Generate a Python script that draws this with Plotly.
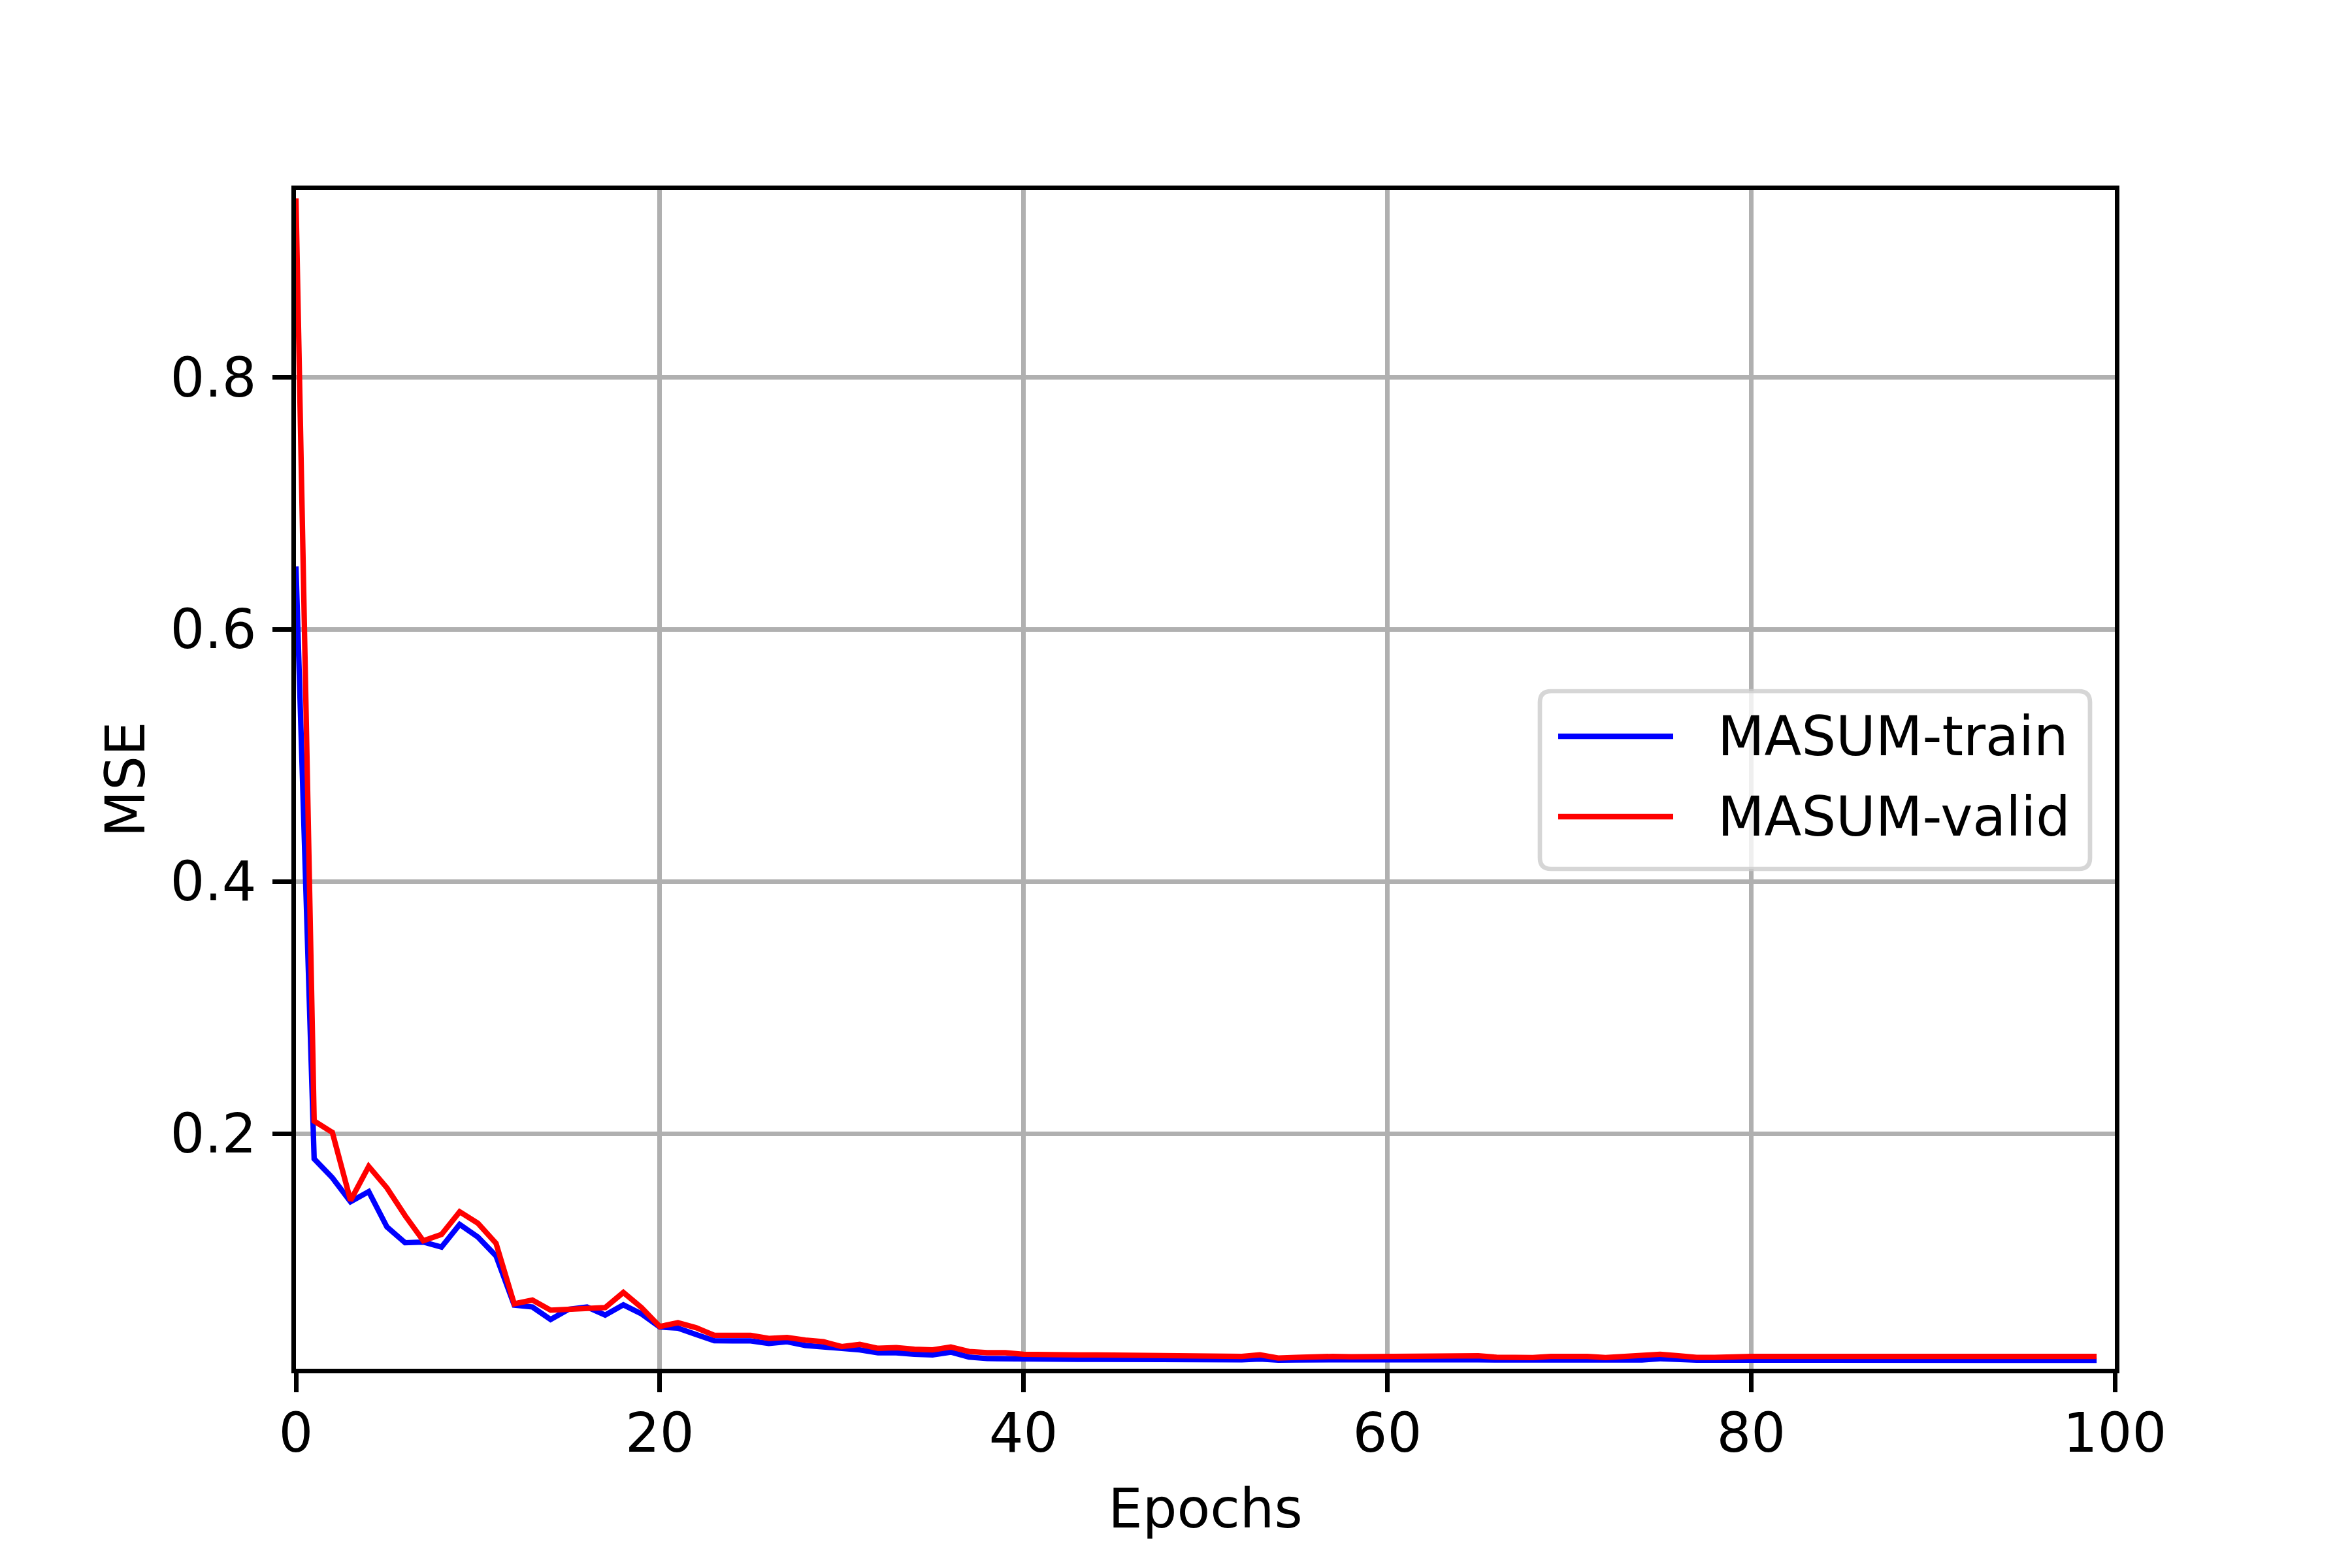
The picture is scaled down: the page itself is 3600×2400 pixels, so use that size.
import plotly.graph_objects as go


# Epoki i wartości MSE

epochs = list(range(100))

train_mse = [
    0.650, 0.180, 0.165, 0.146, 0.154, 0.126, 0.1135, 0.114, 0.110, 0.128,
    0.118, 0.103, 0.064, 0.0625, 0.0526, 0.0607, 0.0625, 0.0561, 0.0642, 0.057,
    0.0466, 0.0457, 0.0406, 0.0357, 0.0356, 0.0356, 0.0335, 0.0349, 0.032, 0.0308,
    0.029, 0.0285, 0.0262, 0.0262, 0.025, 0.0245, 0.0267, 0.0228, 0.0216, 0.0213,
    0.0211, 0.021, 0.021, 0.021, 0.021, 0.0209, 0.021, 0.021, 0.021, 0.021,
    0.0206, 0.0206, 0.0206, 0.0212, 0.0203, 0.0205, 0.0206, 0.0206, 0.0205, 0.0205,
    0.0205, 0.0205, 0.0208, 0.0206, 0.0206, 0.0206, 0.0204, 0.0203, 0.0203, 0.0205,
    0.0205, 0.0205, 0.0203, 0.0205, 0.0205, 0.0215, 0.0206, 0.0203, 0.0203, 0.0203,
    0.0203, 0.0203, 0.0203, 0.0203, 0.0202, 0.0202, 0.0202, 0.0202, 0.0202, 0.0202,
    0.0202, 0.0202, 0.0202, 0.0202, 0.0202, 0.0202, 0.0202, 0.0202, 0.0202, 0.0202,
]

valid_mse = [
    0.942, 0.210, 0.201, 0.147, 0.174, 0.157, 0.135, 0.115, 0.120, 0.138,
    0.129, 0.113, 0.065, 0.068, 0.060, 0.061, 0.062, 0.062, 0.074, 0.062,
    0.047, 0.050, 0.046, 0.040, 0.040, 0.040, 0.0375, 0.0383, 0.0363, 0.0349,
    0.0311, 0.0328, 0.0297, 0.0302, 0.029, 0.0285, 0.0307, 0.0272, 0.0262, 0.0262,
    0.025, 0.0245, 0.0245, 0.0245, 0.0245, 0.0243, 0.0245, 0.0245, 0.0245, 0.0245,
    0.0238, 0.0233, 0.0233, 0.0245, 0.022, 0.0225, 0.0233, 0.0233, 0.023, 0.023,
    0.023, 0.023, 0.024, 0.0238, 0.0238, 0.0238, 0.0226, 0.0224, 0.0224, 0.0233,
    0.0235, 0.0233, 0.0224, 0.0232, 0.0233, 0.025, 0.0238, 0.0225, 0.0225, 0.0233,
    0.0233, 0.0233, 0.0233, 0.0233, 0.0233, 0.0233, 0.0233, 0.0233, 0.0233, 0.0233,
    0.0233, 0.0233, 0.0233, 0.0233, 0.0233, 0.0233, 0.0233, 0.0233, 0.0233, 0.0233,
]

series_names = ["MASUM-train", "MASUM-valid"]
series_colors = ["blue", "red"]

x_ticks = [0, 20, 40, 60, 80, 100]
y_ticks = [0.2, 0.4, 0.6, 0.8]


# Geometria (piksele)

W, H = 3600, 2400
L, R, T, B = 453, 363, 291, 305
PW = W - L - R
PH = H - T - B
FONT = dict(family="DejaVu Sans", size=83, color="black")


def px(p):
    return (p - L) / PW


def py(p):
    return (H - B - p) / PH


fig = go.Figure()

for name, values, color in zip(series_names, [train_mse, valid_mse], series_colors):
    fig.add_trace(
        go.Scatter(
            x=epochs,
            y=values,
            mode="lines",
            name=name,
            line=dict(color=color, width=8.3),
            showlegend=False,
        )
    )


# Legenda rysowana ręcznie (matplotlib-owy wygląd)

bx0, bx1, by0, by1, rad = 2357, 3199, 1058, 1330, 17
path = (
    f"M{px(bx0 + rad)},{py(by0)} L{px(bx1 - rad)},{py(by0)} "
    f"Q{px(bx1)},{py(by0)} {px(bx1)},{py(by0 + rad)} "
    f"L{px(bx1)},{py(by1 - rad)} "
    f"Q{px(bx1)},{py(by1)} {px(bx1 - rad)},{py(by1)} "
    f"L{px(bx0 + rad)},{py(by1)} "
    f"Q{px(bx0)},{py(by1)} {px(bx0)},{py(by1 - rad)} "
    f"L{px(bx0)},{py(by0 + rad)} "
    f"Q{px(bx0)},{py(by0)} {px(bx0 + rad)},{py(by0)} Z"
)
fig.add_shape(
    type="path",
    path=path,
    xref="paper",
    yref="paper",
    fillcolor="rgba(255,255,255,0.8)",
    line=dict(color="rgba(204,204,204,0.8)", width=6.7),
    layer="above",
)

for i, (name, color) in enumerate(zip(series_names, series_colors)):
    ly = 1127 + i * 123
    fig.add_shape(
        type="line",
        xref="paper",
        yref="paper",
        x0=px(2385),
        x1=px(2561),
        y0=py(ly),
        y1=py(ly),
        line=dict(color=color, width=8.3),
        layer="above",
    )
    fig.add_annotation(
        x=px(2627),
        y=py(ly),
        xref="paper",
        yref="paper",
        text=name,
        showarrow=False,
        xanchor="left",
        yanchor="middle",
        font=FONT,
    )


axis_style = dict(
    showline=True,
    linecolor="black",
    linewidth=6.7,
    mirror=True,
    ticks="outside",
    ticklen=29,
    tickwidth=6.7,
    tickcolor="black",
    showgrid=True,
    gridcolor="#b0b0b0",
    gridwidth=6.7,
    zeroline=False,
    tickfont=FONT,
    title_font=FONT,
)

fig.update_layout(
    width=W,
    height=H,
    margin=dict(l=L, r=R, t=T, b=B),
    paper_bgcolor="white",
    plot_bgcolor="white",
    font=FONT,
    xaxis=dict(
        axis_style,
        range=[0, 100],
        tickvals=x_ticks,
        ticklabelstandoff=-8,
        title=dict(text="Epochs", standoff=41),
    ),
    yaxis=dict(
        axis_style,
        range=[0.0135, 0.9485],
        tickvals=y_ticks,
        tickformat=".1f",
        ticklabelstandoff=8,
        title=dict(text="MSE", standoff=14),
    ),
)

# bez domyślnego marginesu strony i bez paska narzędzi
fig.write_html(
    "out.html",
    config={"displayModeBar": False},
    post_script="document.body.style.margin='0';",
)
